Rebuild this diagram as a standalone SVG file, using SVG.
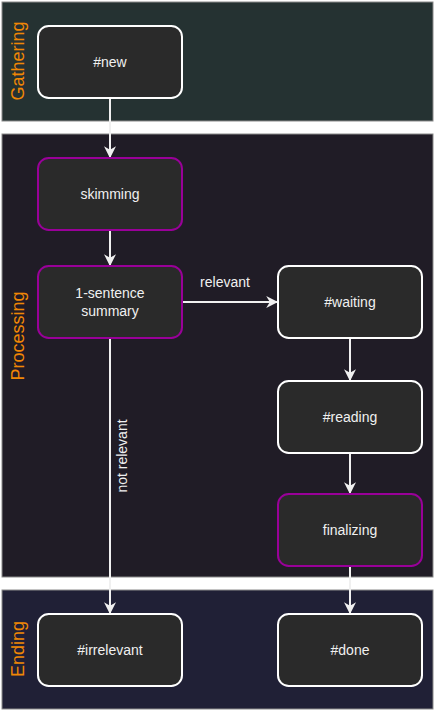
<svg xmlns="http://www.w3.org/2000/svg" width="435" height="711" viewBox="0 0 435 711">
<style>
.lane{stroke:#8a8a8a;stroke-width:1}
.lt{font-family:"Liberation Sans",Arial,sans-serif;font-size:18px;fill:#F08705;text-anchor:middle;dominant-baseline:central}
.n{fill:#2a2a2a;stroke:#ffffff;stroke-width:2}
.p{fill:#2a2a2a;stroke:#990099;stroke-width:2}
.t{font-family:"Liberation Sans",Arial,sans-serif;font-size:14px;fill:#f0f0f0;text-anchor:middle;dominant-baseline:central}
.e{stroke:#f0f0f0;stroke-width:2;fill:none;marker-end:url(#ah)}
</style>
<defs>
<marker id="ah" viewBox="0 0 10 10" refX="9" refY="5" markerWidth="12" markerHeight="12" markerUnits="userSpaceOnUse" orient="auto">
<path d="M0,0 L10,5 L0,10 L3,5 Z" fill="#f0f0f0"/>
</marker>
</defs>
<rect width="435" height="711" fill="#ffffff"/>
<g id="lane-gathering">
<rect class="lane" x="2" y="2" width="431" height="119" fill="#253232"/>
<text class="lt" transform="translate(18,61) rotate(-90)">Gathering</text>
</g>
<g id="lane-processing">
<rect class="lane" x="2" y="134" width="431" height="443" fill="#201c26"/>
<text class="lt" transform="translate(18,336) rotate(-90)">Processing</text>
</g>
<g id="lane-ending">
<rect class="lane" x="2" y="590" width="431" height="119" fill="#202036"/>
<text class="lt" transform="translate(18,649) rotate(-90)">Ending</text>
</g>
<g id="connectors">
<path class="e" d="M110,98 V157"/>
<path class="e" d="M110,230 V265"/>
<path class="e" d="M182,302 H277"/>
<path class="e" d="M110,338 V613"/>
<path class="e" d="M350,338 V380"/>
<path class="e" d="M350,453 V493"/>
<path class="e" d="M350,566 V613"/>
<text class="t" x="225" y="282">relevant</text>
<text class="t" transform="translate(122,456) rotate(-90)">not relevant</text>
</g>
<g id="node-new"><rect class="n" x="38" y="26" width="144" height="72" rx="10.8"/><text class="t" x="110" y="62">#new</text></g>
<g id="node-skimming"><rect class="p" x="38" y="158" width="144" height="72" rx="10.8"/><text class="t" x="110" y="194">skimming</text></g>
<g id="node-summary"><rect class="p" x="38" y="266" width="144" height="72" rx="10.8"/><text class="t" x="110" y="293">1-sentence</text><text class="t" x="110" y="311">summary</text></g>
<g id="node-waiting"><rect class="n" x="278" y="266" width="144" height="72" rx="10.8"/><text class="t" x="350" y="302">#waiting</text></g>
<g id="node-reading"><rect class="n" x="278" y="381" width="144" height="72" rx="10.8"/><text class="t" x="350" y="417">#reading</text></g>
<g id="node-finalizing"><rect class="p" x="278" y="494" width="144" height="72" rx="10.8"/><text class="t" x="350" y="530">finalizing</text></g>
<g id="node-irrelevant"><rect class="n" x="38" y="614" width="144" height="72" rx="10.8"/><text class="t" x="110" y="650">#irrelevant</text></g>
<g id="node-done"><rect class="n" x="278" y="614" width="144" height="72" rx="10.8"/><text class="t" x="350" y="650">#done</text></g>
</svg>
